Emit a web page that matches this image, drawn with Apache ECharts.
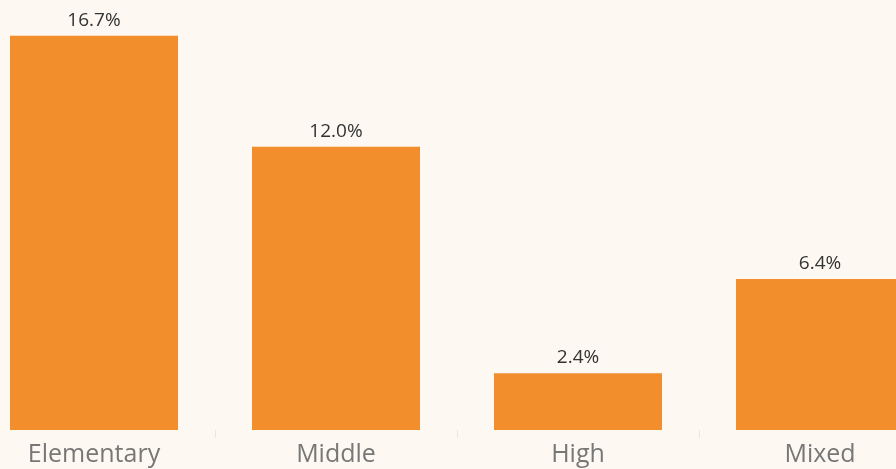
<!DOCTYPE html>
<html>
<head>
<meta charset="utf-8">
<script src="https://cdn.jsdelivr.net/npm/echarts@6/dist/echarts.min.js"></script>
<style>
  html, body { margin: 0; padding: 0; background: #fdf8f1; }
  #chart { width: 896px; height: 469px; }
</style>
</head>
<body>
<div id="chart"></div>
<script>
  // school level categories and share values (%)
  var categories = ['Elementary', 'Middle', 'High', 'Mixed'];
  var shareValues = [16.7, 12.0, 2.4, 6.4];

  var myChart = echarts.init(document.getElementById('chart'));
  myChart.setOption({
    backgroundColor: '#fdf8f1',
    animation: false,
    grid: {
      left: -27,
      width: 968,
      top: 5,
      bottom: 39,
      outerBoundsMode: 'none'
    },
    xAxis: {
      type: 'category',
      data: categories,
      axisLine: { show: false },
      axisTick: {
        show: true,
        length: 8,
        lineStyle: { color: '#ece6dd' }
      },
      axisLabel: {
        color: '#777777',
        fontSize: 25,
        fontFamily: 'Open Sans',
        margin: 12
      }
    },
    yAxis: {
      type: 'value',
      min: 0,
      max: 18,
      show: false,
      splitLine: { show: false }
    },
    series: [
      {
        type: 'bar',
        data: shareValues,
        barWidth: 168,
        itemStyle: { color: '#f28e2b' },
        label: {
          show: true,
          position: 'top',
          distance: 6,
          color: '#333333',
          fontSize: 19,
          fontFamily: 'Open Sans',
          formatter: function (p) { return p.value.toFixed(1) + '%'; }
        }
      }
    ]
  });
</script>
</body>
</html>
